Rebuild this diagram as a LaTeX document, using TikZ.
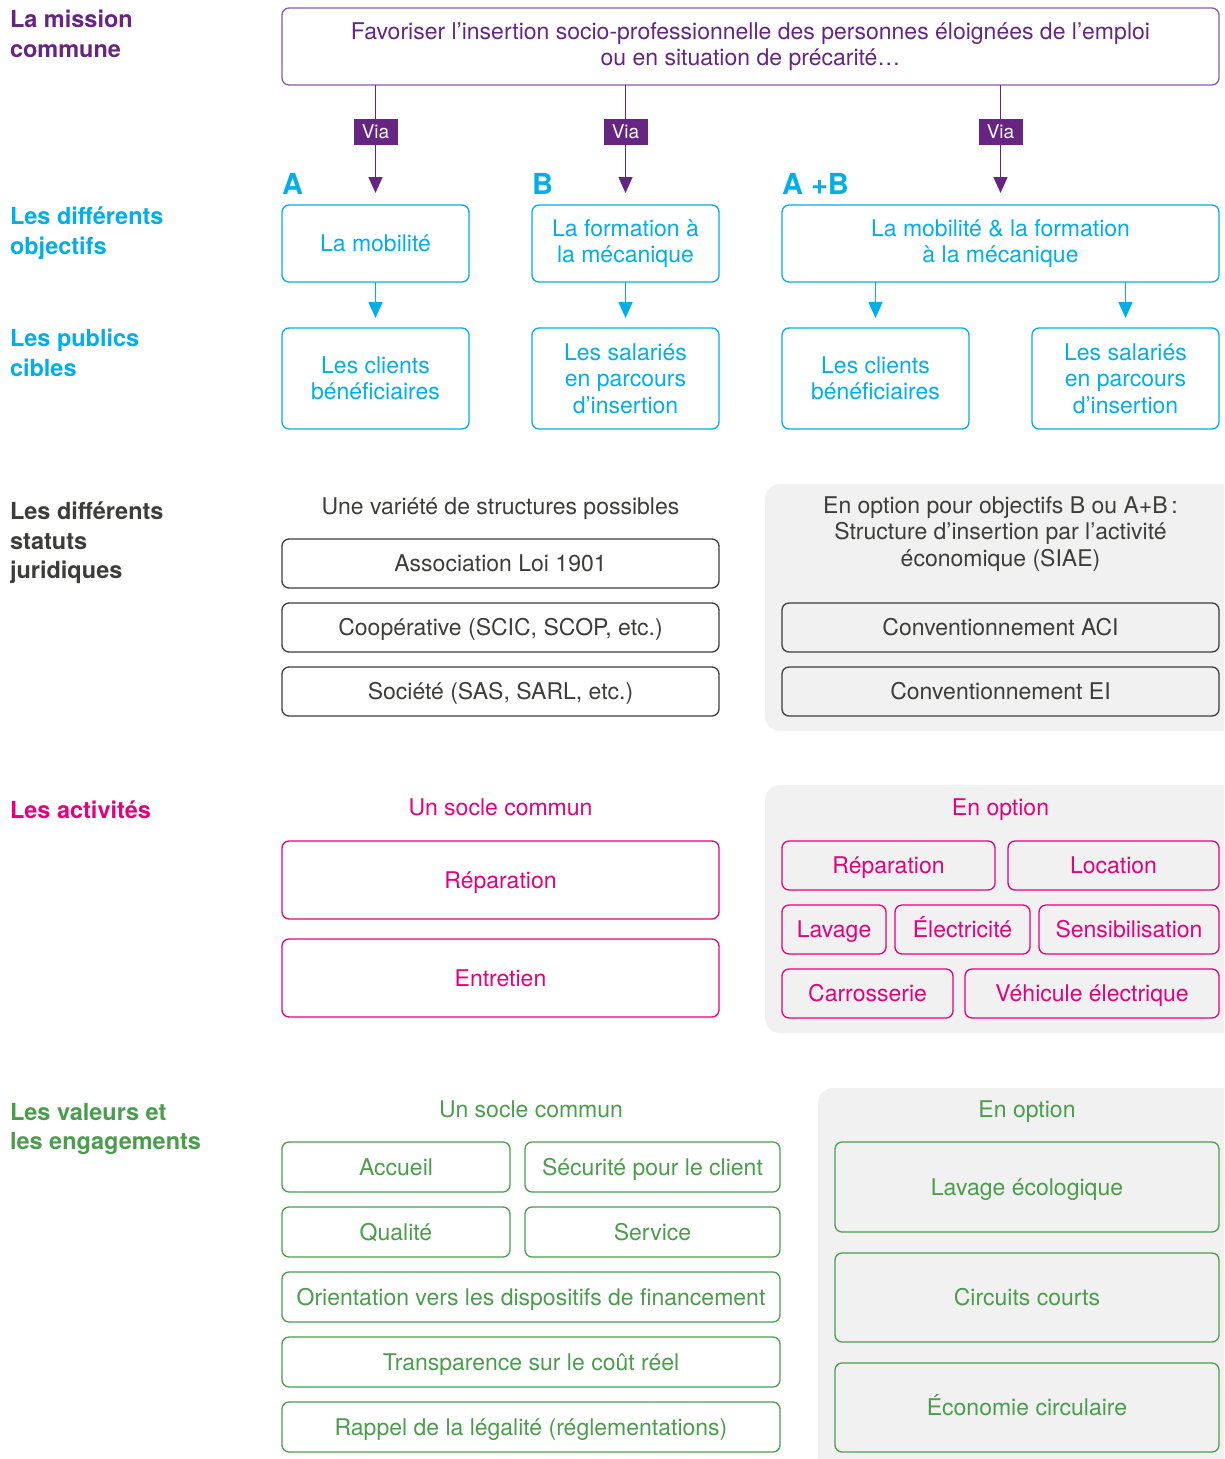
\documentclass[tikz,border=0pt]{standalone}
\usepackage{fontspec}
\setmainfont{TeX Gyre Heros}
\usetikzlibrary{positioning,arrows.meta}
\definecolor{missionpurple}{HTML}{662483}
\definecolor{purpleline}{HTML}{8C5BA8}
\definecolor{objcyan}{HTML}{00AEEA}
\definecolor{statgray}{HTML}{3C3C3B}
\definecolor{actpink}{HTML}{E5007D}
\definecolor{valgreen}{HTML}{4A9D4B}
\definecolor{panelgray}{HTML}{F1F1F1}

\begin{document}
\begin{tikzpicture}[x=1pt, y=-1pt,
    every node/.style={font=\fontsize{23}{26.5}\selectfont, inner sep=0pt, outer sep=0pt, align=center},
    oneline/.style={text height=18pt, text depth=2pt},
    box/.style={draw, rounded corners=7pt, line width=1.3pt},
    missionbox/.style={box, draw=purpleline, text=missionpurple, minimum width=937pt, minimum height=77pt},
    viabox/.style={fill=missionpurple, text=white, minimum width=44pt, minimum height=26pt, font=\fontsize{19}{20}\selectfont},
    objbox/.style={box, draw=objcyan, text=objcyan, minimum width=187pt},
    statbox/.style={box, oneline, draw=statgray, text=statgray, minimum width=437pt, minimum height=49pt},
    actbox/.style={box, oneline, draw=actpink, text=actpink, minimum height=49pt},
    valbox/.style={box, oneline, draw=valgreen, text=valgreen, minimum height=50pt},
    panel/.style={fill=panelgray, rounded corners=15pt},
    sectionlabel/.style={anchor=north west, align=left, font=\bfseries\fontsize{23.5}{29.5}\selectfont},
    letterlabel/.style={anchor=base west, text=objcyan, font=\bfseries\fontsize{29}{30}\selectfont},
    viaarrow/.style={draw=missionpurple, line width=1.5pt, -{Triangle[width=14pt,length=16pt]}},
    cyanarrow/.style={draw=objcyan, line width=1.5pt, -{Triangle[width=14pt,length=16pt]}},
]
    \clip (0,0) rectangle (1224,1459);
    % grey panels
    \fill[panel] (765,484) rectangle (1245,731);
    \fill[panel] (765,785) rectangle (1245,1033);
    \fill[panel] (818,1088) rectangle (1245,1480);

    % left labels
    \node[sectionlabel, text=missionpurple] (labMission) at (10,10)   {La mission\\commune};
    \node[sectionlabel, text=objcyan]       (labObj)     at (10,207)  {Les différents\\objectifs};
    \node[sectionlabel, text=objcyan]       (labPub)     at (10,329)  {Les publics\\cibles};
    \node[sectionlabel, text=statgray]      (labStat)    at (10,502)  {Les différents\\statuts\\juridiques};
    \node[sectionlabel, text=actpink]       (labAct)     at (10,801)  {Les activités};
    \node[sectionlabel, text=valgreen]      (labVal)     at (10,1103) {Les valeurs et\\les engagements};

    % mission
    \node[missionbox] (mission) at (750.5,46.5) {Favoriser l’insertion socio-professionnelle des personnes éloignées de l’emploi\\ou en situation de précarité\dots};

    % objectifs
    \node[objbox, minimum height=77pt] (objA) at (375.5,243.5) {La mobilité};
    \node[objbox, minimum height=77pt, right=63pt of objA] (objB) {La formation à\\la mécanique};
    \node[objbox, minimum height=77pt, minimum width=437pt, right=63pt of objB] (objAB) {La mobilité \& la formation\\à la mécanique};
    \node[letterlabel] (letA)  at ([yshift=11pt]objA.north west)  {A};
    \node[letterlabel] (letB)  at ([yshift=11pt]objB.north west)  {B};
    \node[letterlabel] (letAB) at ([yshift=11pt]objAB.north west) {A +B};

    % publics
    \node[objbox, minimum height=101pt, below=46pt of objA] (pubA) {Les clients\\bénéficiaires};
    \node[objbox, minimum height=101pt, below=46pt of objB] (pubB) {Les salariés\\en parcours\\d’insertion};
    \node[objbox, minimum height=101pt, right=63pt of pubB] (pubAB1) {Les clients\\bénéficiaires};
    \node[objbox, minimum height=101pt, right=63pt of pubAB1] (pubAB2) {Les salariés\\en parcours\\d’insertion};

    % arrows
    \draw[viaarrow] (mission.south -| objA) -- node[viabox, pos=0.435] (viaA) {Via} ([yshift=12pt]objA.north);
    \draw[viaarrow] (mission.south -| objB) -- node[viabox, pos=0.435] (viaB) {Via} ([yshift=12pt]objB.north);
    \draw[viaarrow] (mission.south -| objAB) -- node[viabox, pos=0.435] (viaAB) {Via} ([yshift=12pt]objAB.north);
    \draw[cyanarrow] (objA.south) -- ([yshift=10pt]pubA.north);
    \draw[cyanarrow] (objB.south) -- ([yshift=10pt]pubB.north);
    \draw[cyanarrow] (objAB.south -| pubAB1) -- ([yshift=10pt]pubAB1.north);
    \draw[cyanarrow] (objAB.south -| pubAB2) -- ([yshift=10pt]pubAB2.north);

    % statuts
    \node[oneline, text=statgray] (headStat) at (500.5,506) {Une variété de structures possibles};
    \node[statbox] (assoc) at (500.5,563.5) {Association Loi 1901};
    \node[statbox, below=15pt of assoc] (coop) {Coopérative (SCIC, SCOP, etc.)};
    \node[statbox, below=15pt of coop] (societe) {Société (SAS, SARL, etc.)};
    \node[text=statgray] (headSiae) at (1000.5,534) {En option pour objectifs B ou A+B\,:\\Structure d’insertion par l’activité\\économique (SIAE)};
    \node[statbox] (aci) at (1000.5,627.5) {Conventionnement ACI};
    \node[statbox, below=15pt of aci] (ei) {Conventionnement EI};

    % activites
    \node[oneline, text=actpink] (headAct) at (500.5,807) {Un socle commun};
    \node[actbox, minimum width=437pt, minimum height=78pt] (repar) at (500.5,880) {Réparation};
    \node[actbox, minimum width=437pt, minimum height=78pt, below=20pt of repar] (entretien) {Entretien};
    \node[oneline, text=actpink] (headActOpt) at (1000.5,807) {En option};
    \node[actbox, minimum width=213pt, anchor=west] (optRepar) at (782,865.5) {Réparation};
    \node[actbox, minimum width=211pt, right=13pt of optRepar] (location) {Location};
    \node[actbox, minimum width=104pt, anchor=west] (lavage) at (782,929.5) {Lavage};
    \node[actbox, minimum width=135pt, right=9pt of lavage] (elec) {Électricité};
    \node[actbox, minimum width=180pt, right=9pt of elec] (sensib) {Sensibilisation};
    \node[actbox, minimum width=171pt, anchor=west] (carross) at (782,993.5) {Carrosserie};
    \node[actbox, minimum width=254pt, right=12pt of carross] (vehicule) {Véhicule électrique};

    % valeurs
    \node[oneline, text=valgreen] (headVal) at (531,1109) {Un socle commun};
    \node[valbox, minimum width=228pt, anchor=west] (accueil) at (282,1167) {Accueil};
    \node[valbox, minimum width=255pt, right=15pt of accueil] (securite) {Sécurité pour le client};
    \node[valbox, minimum width=228pt, below=15pt of accueil] (qualite) {Qualité};
    \node[valbox, minimum width=255pt, below=15pt of securite] (service) {Service};
    \node[valbox, minimum width=498pt] (orient) at (531,1297) {Orientation vers les dispositifs de financement};
    \node[valbox, minimum width=498pt, below=15pt of orient] (transp) {Transparence sur le coût réel};
    \node[valbox, minimum width=498pt, below=15pt of transp] (rappel) {Rappel de la légalité (réglementations)};
    \node[oneline, text=valgreen] (headValOpt) at (1027,1109) {En option};
    \node[valbox, minimum width=384pt, minimum height=90pt] (lavEco) at (1027,1187) {Lavage écologique};
    \node[valbox, minimum width=384pt, minimum height=89pt, below=21pt of lavEco] (circuits) {Circuits courts};
    \node[valbox, minimum width=384pt, minimum height=89pt, below=21pt of circuits] (econ) {Économie circulaire};
\end{tikzpicture}
\end{document}
